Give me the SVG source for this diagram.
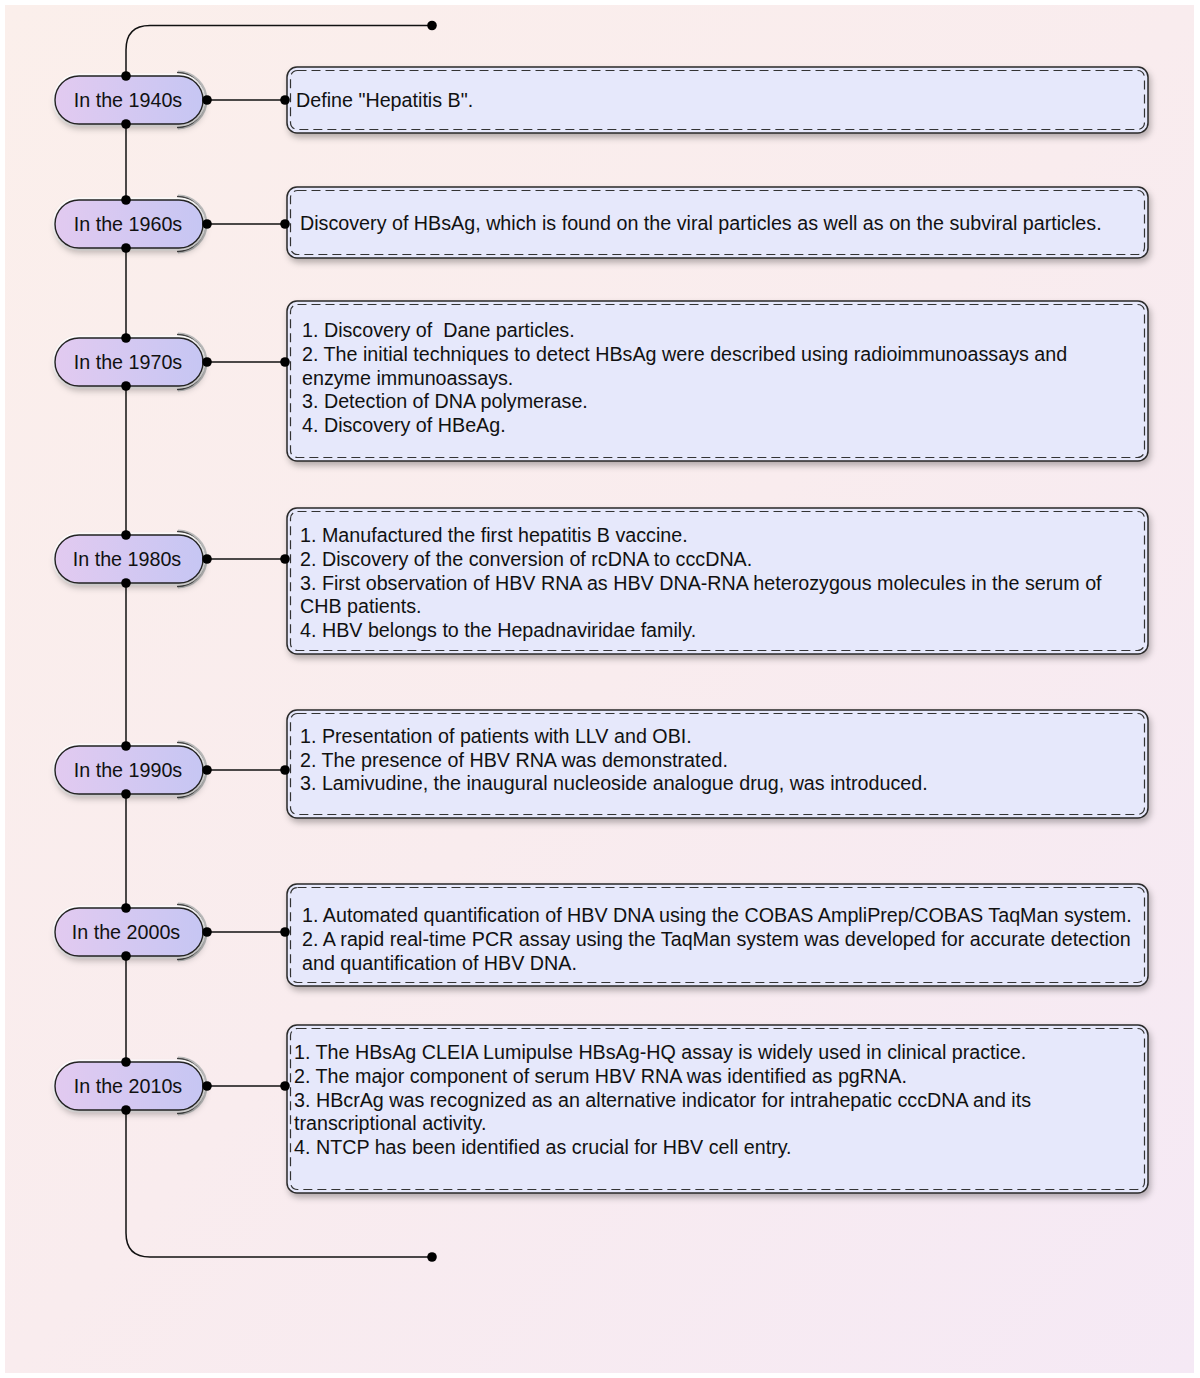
<svg xmlns="http://www.w3.org/2000/svg" width="1200" height="1378" viewBox="0 0 1200 1378">
<defs>
<linearGradient id="bg" x1="0" y1="0" x2="1" y2="1">
<stop offset="0" stop-color="#fbefeb"/>
<stop offset="0.5" stop-color="#f9ecee"/>
<stop offset="1" stop-color="#f5e9f5"/>
</linearGradient>
<linearGradient id="pill" x1="0" y1="0" x2="1" y2="0">
<stop offset="0" stop-color="#e2caf0"/>
<stop offset="1" stop-color="#c6c6f3"/>
</linearGradient>
<filter id="sh" x="-10%" y="-20%" width="120%" height="150%">
<feDropShadow dx="2" dy="4" stdDeviation="3" flood-color="#000" flood-opacity="0.28"/>
</filter>
<filter id="shp" x="-20%" y="-30%" width="140%" height="170%">
<feDropShadow dx="1" dy="4" stdDeviation="3" flood-color="#000" flood-opacity="0.25"/>
</filter>
</defs>
<style>
.box{fill:#e6e8fb;stroke:#2a2a2a;stroke-width:1.5}
.dash{fill:none;stroke:#333;stroke-width:1.2;stroke-dasharray:9 5}
.pl{fill:url(#pill);stroke:#222;stroke-width:1.4}
.glow{fill:none;stroke:#ffffff;stroke-width:3;opacity:0.9}
.arc{fill:none;stroke:#444;stroke-width:1.4}
.arc2{fill:none;stroke:#bbb;stroke-width:3}
.ln{fill:none;stroke:#111;stroke-width:1.5}
.dot{fill:#000}
.t{font-family:"Liberation Sans",Arial,sans-serif;font-size:19.72px;fill:#111;white-space:pre}
.pt{font-family:"Liberation Sans",Arial,sans-serif;font-size:19.72px;fill:#111;text-anchor:middle}
</style>
<rect x="5" y="5" width="1189" height="1368" fill="url(#bg)"/>

<g id="connectors">
<path class="ln" d="M432 25.5 H150 Q126 25.5 126 50 V76"/>
<path class="ln" d="M126 124 V200"/>
<path class="ln" d="M126 248 V338"/>
<path class="ln" d="M126 386 V535"/>
<path class="ln" d="M126 583 V746"/>
<path class="ln" d="M126 794 V908"/>
<path class="ln" d="M126 956 V1062"/>
<path class="ln" d="M126 1110 V1233 Q126 1257 150 1257 H432"/>
<path class="ln" d="M207 100 H285"/>
<path class="ln" d="M207 224 H285"/>
<path class="ln" d="M207 362 H285"/>
<path class="ln" d="M207 559 H285"/>
<path class="ln" d="M207 770 H285"/>
<path class="ln" d="M207 932 H285"/>
<path class="ln" d="M207 1086 H285"/>
<circle class="dot" cx="432" cy="25.5" r="4.8"/>
<circle class="dot" cx="432" cy="1257" r="4.8"/>
</g>

<g id="n1940">
<path class="arc2" d="M178 72 A28 28 0 0 1 178 128"/>
<path class="arc" d="M177 72.5 A27.5 27.5 0 0 1 177 127.5"/>
<rect class="glow" x="54" y="75" width="150" height="50" rx="25"/>
<rect class="pl" x="55" y="76" width="148" height="48" rx="24" filter="url(#shp)"/>
<text class="pt" x="128" y="107">In the 1940s</text>
<circle class="dot" cx="126" cy="76" r="4.8"/><circle class="dot" cx="126" cy="124" r="4.8"/><circle class="dot" cx="207" cy="100" r="4.8"/>
</g>
<g id="n1960">
<path class="arc2" d="M178 196 A28 28 0 0 1 178 252"/>
<path class="arc" d="M177 196.5 A27.5 27.5 0 0 1 177 251.5"/>
<rect class="glow" x="54" y="199" width="150" height="50" rx="25"/>
<rect class="pl" x="55" y="200" width="148" height="48" rx="24" filter="url(#shp)"/>
<text class="pt" x="128" y="231">In the 1960s</text>
<circle class="dot" cx="126" cy="200" r="4.8"/><circle class="dot" cx="126" cy="248" r="4.8"/><circle class="dot" cx="207" cy="224" r="4.8"/>
</g>
<g id="n1970">
<path class="arc2" d="M178 334 A28 28 0 0 1 178 390"/>
<path class="arc" d="M177 334.5 A27.5 27.5 0 0 1 177 389.5"/>
<rect class="glow" x="54" y="337" width="150" height="50" rx="25"/>
<rect class="pl" x="55" y="338" width="148" height="48" rx="24" filter="url(#shp)"/>
<text class="pt" x="128" y="369">In the 1970s</text>
<circle class="dot" cx="126" cy="338" r="4.8"/><circle class="dot" cx="126" cy="386" r="4.8"/><circle class="dot" cx="207" cy="362" r="4.8"/>
</g>
<g id="n1980">
<path class="arc2" d="M178 531 A28 28 0 0 1 178 587"/>
<path class="arc" d="M177 531.5 A27.5 27.5 0 0 1 177 586.5"/>
<rect class="glow" x="54" y="534" width="150" height="50" rx="25"/>
<rect class="pl" x="55" y="535" width="148" height="48" rx="24" filter="url(#shp)"/>
<text class="pt" x="127" y="566">In the 1980s</text>
<circle class="dot" cx="126" cy="535" r="4.8"/><circle class="dot" cx="126" cy="583" r="4.8"/><circle class="dot" cx="207" cy="559" r="4.8"/>
</g>
<g id="n1990">
<path class="arc2" d="M178 742 A28 28 0 0 1 178 798"/>
<path class="arc" d="M177 742.5 A27.5 27.5 0 0 1 177 797.5"/>
<rect class="glow" x="54" y="745" width="150" height="50" rx="25"/>
<rect class="pl" x="55" y="746" width="148" height="48" rx="24" filter="url(#shp)"/>
<text class="pt" x="128" y="777">In the 1990s</text>
<circle class="dot" cx="126" cy="746" r="4.8"/><circle class="dot" cx="126" cy="794" r="4.8"/><circle class="dot" cx="207" cy="770" r="4.8"/>
</g>
<g id="n2000">
<path class="arc2" d="M178 904 A28 28 0 0 1 178 960"/>
<path class="arc" d="M177 904.5 A27.5 27.5 0 0 1 177 959.5"/>
<rect class="glow" x="54" y="907" width="150" height="50" rx="25"/>
<rect class="pl" x="55" y="908" width="148" height="48" rx="24" filter="url(#shp)"/>
<text class="pt" x="126" y="939">In the 2000s</text>
<circle class="dot" cx="126" cy="908" r="4.8"/><circle class="dot" cx="126" cy="956" r="4.8"/><circle class="dot" cx="207" cy="932" r="4.8"/>
</g>
<g id="n2010">
<path class="arc2" d="M178 1058 A28 28 0 0 1 178 1114"/>
<path class="arc" d="M177 1058.5 A27.5 27.5 0 0 1 177 1113.5"/>
<rect class="glow" x="54" y="1061" width="150" height="50" rx="25"/>
<rect class="pl" x="55" y="1062" width="148" height="48" rx="24" filter="url(#shp)"/>
<text class="pt" x="128" y="1093">In the 2010s</text>
<circle class="dot" cx="126" cy="1062" r="4.8"/><circle class="dot" cx="126" cy="1110" r="4.8"/><circle class="dot" cx="207" cy="1086" r="4.8"/>
</g>

<g id="b1940">
<rect class="box" x="287" y="67" width="861" height="66" rx="10" filter="url(#sh)"/>
<rect class="dash" x="290.5" y="70.5" width="854" height="59" rx="7"/>
<text class="t" x="296" y="107">Define "Hepatitis B".</text>
<circle class="dot" cx="285" cy="100" r="4.8"/>
</g>
<g id="b1960">
<rect class="box" x="287" y="187" width="861" height="71" rx="10" filter="url(#sh)"/>
<rect class="dash" x="290.5" y="190.5" width="854" height="64" rx="7"/>
<text class="t" x="300" y="230">Discovery of HBsAg, which is found on the viral particles as well as on the subviral particles.</text>
<circle class="dot" cx="285" cy="224" r="4.8"/>
</g>
<g id="b1970">
<rect class="box" x="287" y="301" width="861" height="160" rx="10" filter="url(#sh)"/>
<rect class="dash" x="290.5" y="304.5" width="854" height="153" rx="7"/>
<text class="t" x="302" y="337" xml:space="preserve">1. Discovery of  Dane particles.</text>
<text class="t" x="302" y="361">2. The initial techniques to detect HBsAg were described using radioimmunoassays and</text>
<text class="t" x="302" y="385">enzyme immunoassays.</text>
<text class="t" x="302" y="408">3. Detection of DNA polymerase.</text>
<text class="t" x="302" y="432">4. Discovery of HBeAg.</text>
<circle class="dot" cx="285" cy="362" r="4.8"/>
</g>
<g id="b1980">
<rect class="box" x="287" y="508" width="861" height="146" rx="10" filter="url(#sh)"/>
<rect class="dash" x="290.5" y="511.5" width="854" height="139" rx="7"/>
<text class="t" x="300" y="542">1. Manufactured the first hepatitis B vaccine.</text>
<text class="t" x="300" y="566">2. Discovery of the conversion of rcDNA to cccDNA.</text>
<text class="t" x="300" y="590">3. First observation of HBV RNA as HBV DNA-RNA heterozygous molecules in the serum of</text>
<text class="t" x="300" y="613">CHB patients.</text>
<text class="t" x="300" y="637">4. HBV belongs to the Hepadnaviridae family.</text>
<circle class="dot" cx="285" cy="559" r="4.8"/>
</g>
<g id="b1990">
<rect class="box" x="287" y="710" width="861" height="108" rx="10" filter="url(#sh)"/>
<rect class="dash" x="290.5" y="713.5" width="854" height="101" rx="7"/>
<text class="t" x="300" y="743">1. Presentation of patients with LLV and OBI.</text>
<text class="t" x="300" y="767">2. The presence of HBV RNA was demonstrated.</text>
<text class="t" x="300" y="790">3. Lamivudine, the inaugural nucleoside analogue drug, was introduced.</text>
<circle class="dot" cx="285" cy="770" r="4.8"/>
</g>
<g id="b2000">
<rect class="box" x="287" y="884" width="861" height="102" rx="10" filter="url(#sh)"/>
<rect class="dash" x="290.5" y="887.5" width="854" height="95" rx="7"/>
<text class="t" x="302" y="922">1. Automated quantification of HBV DNA using the COBAS AmpliPrep/COBAS TaqMan system.</text>
<text class="t" x="302" y="946">2. A rapid real-time PCR assay using the TaqMan system was developed for accurate detection</text>
<text class="t" x="302" y="970">and quantification of HBV DNA.</text>
<circle class="dot" cx="285" cy="932" r="4.8"/>
</g>
<g id="b2010">
<rect class="box" x="287" y="1025" width="861" height="168" rx="10" filter="url(#sh)"/>
<rect class="dash" x="290.5" y="1028.5" width="854" height="161" rx="7"/>
<text class="t" x="294" y="1059">1. The HBsAg CLEIA Lumipulse HBsAg-HQ assay is widely used in clinical practice.</text>
<text class="t" x="294" y="1083">2. The major component of serum HBV RNA was identified as pgRNA.</text>
<text class="t" x="294" y="1107">3. HBcrAg was recognized as an alternative indicator for intrahepatic cccDNA and its</text>
<text class="t" x="294" y="1130">transcriptional activity.</text>
<text class="t" x="294" y="1154">4. NTCP has been identified as crucial for HBV cell entry.</text>
<circle class="dot" cx="285" cy="1086" r="4.8"/>
</g>
</svg>
